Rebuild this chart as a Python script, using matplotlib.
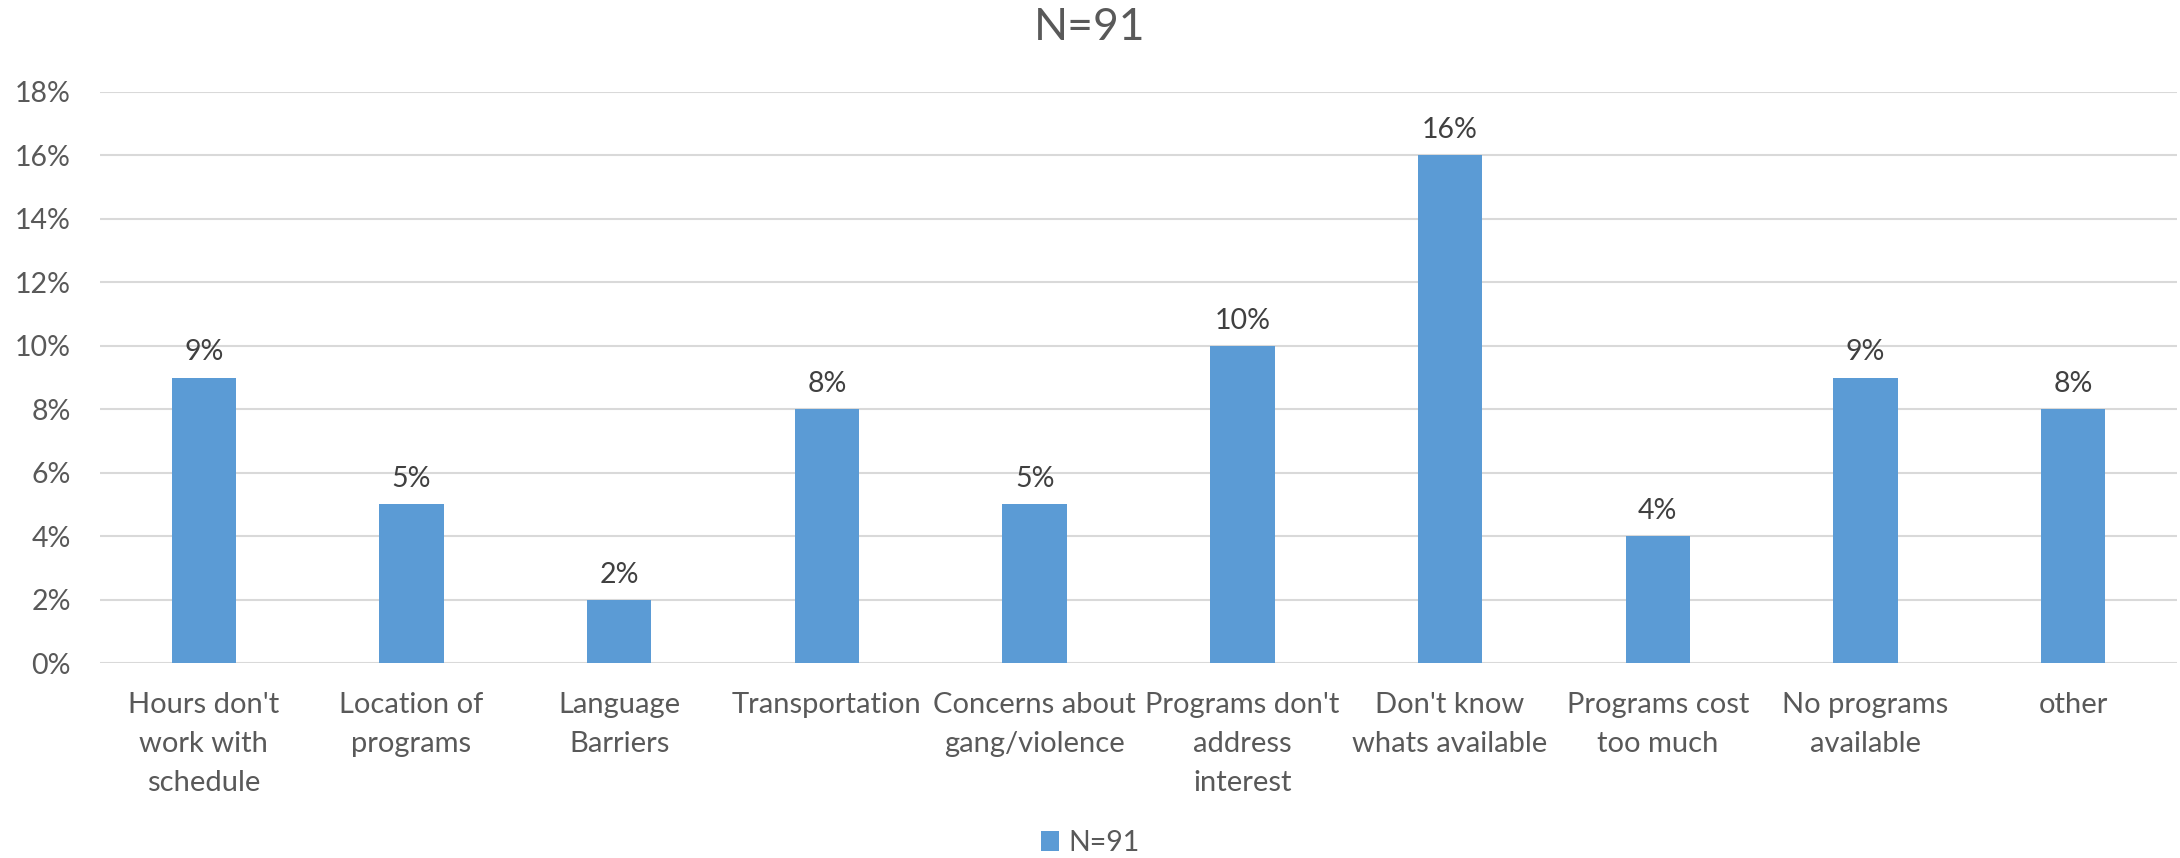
import matplotlib.pyplot as plt
import numpy as np
from matplotlib.ticker import PercentFormatter

plt.rcParams['font.family'] = ['Lato', 'DejaVu Sans']

# data
categories = [
    "Hours don't\nwork with\nschedule",
    "Location of\nprograms",
    "Language\nBarriers",
    "Transportation",
    "Concerns about\ngang/violence",
    "Programs don't\naddress\ninterest",
    "Don't know\nwhats available",
    "Programs cost\ntoo much",
    "No programs\navailable",
    "other",
]
values = [0.09, 0.05, 0.02, 0.08, 0.05, 0.10, 0.16, 0.04, 0.09, 0.08]
series_name = "N=91"

BAR = '#5B9BD5'
TXT = '#595959'
GRID = '#D9D9D9'

fig = plt.figure(figsize=(21.8, 8.58), dpi=100)
ax = fig.add_axes([100 / 2180, 1 - 663 / 858, 2077 / 2180, (663 - 92) / 858])

x = np.arange(len(categories))
bars = ax.bar(x, values, width=0.31, color=BAR, label=series_name, zorder=3)

for xi, v in zip(x, values):
    ax.annotate(f"{v * 100:.0f}%", (xi, v), xytext=(0, 12), textcoords='offset pixels',
                ha='center', va='bottom', fontsize=20.5, color='#404040')

ax.set_xlim(-0.5, len(categories) - 0.5)
ax.set_ylim(0, 0.18)
ax.set_yticks(np.arange(0, 0.181, 0.02))
ax.yaxis.set_major_formatter(PercentFormatter(1.0, decimals=0))
ax.set_xticks(x)
ax.set_xticklabels(categories, linespacing=1.62)

ax.tick_params(axis='y', length=0, pad=21, labelsize=20.5, labelcolor=TXT)
ax.tick_params(axis='x', length=0, pad=21, labelsize=21, labelcolor=TXT)

ax.grid(axis='y', color=GRID, linewidth=1.5, zorder=0)
for s in ax.spines.values():
    s.set_visible(False)

fig.text(0.5, 1 - 27 / 858, "N=91", ha='center', va='center', fontsize=32, color=TXT)

fig.legend(handles=[bars], labels=[series_name], loc='center', bbox_to_anchor=(0.5, 1 - 843 / 858),
           frameon=False, fontsize=20.5, labelcolor=TXT, handlelength=0.65, handleheight=0.65,
           handletextpad=0.3)

fig.savefig('out.png', dpi=100)
